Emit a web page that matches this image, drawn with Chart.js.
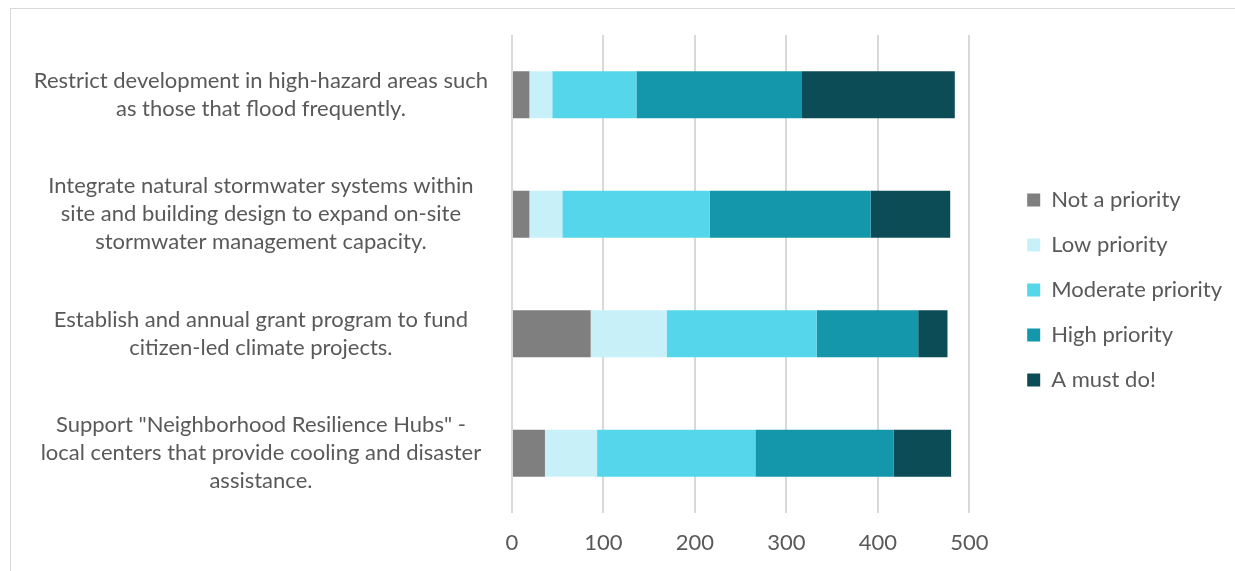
<!DOCTYPE html>
<html>
<head>
<meta charset="utf-8">
<script src="https://cdn.jsdelivr.net/npm/chart.js@4/dist/chart.umd.min.js"></script>
<style>
  html, body { margin: 0; padding: 0; background: #fff; }
  #box { position: absolute; left: 10px; top: 8px; width: 1240px; height: 580px; border: 1px solid #d9d9d9; box-sizing: border-box; }
  #wrap { position: absolute; left: 0; top: 0; width: 1225px; height: 563px; }
</style>
</head>
<body>
<div id="box"><div id="wrap"><canvas id="grafico"></canvas></div></div>
<script>
// Categorías (de arriba a abajo) y respuestas por nivel de prioridad
const categorias = [
    ['Restrict development in high-hazard areas such', 'as those that flood frequently.'],
    ['Integrate natural stormwater systems within', 'site and building design to expand on-site', 'stormwater management capacity.'],
    ['Establish and annual grant program to fund', 'citizen-led climate projects.'],
    ['Support "Neighborhood Resilience Hubs" -', 'local centers that provide cooling and disaster', 'assistance.']
];
const noPrioridad = [19, 19, 86, 36];
const baja = [25, 36, 83, 57];
const moderada = [92, 161, 164, 173];
const alta = [181, 176, 111, 151];
const imprescindible = [167, 87, 32, 63];
const ticksX = [0, 100, 200, 300, 400, 500];

const fuente = 'Lato, "Open Sans", sans-serif';
const gris = '#595959';

const ctx = document.getElementById('grafico').getContext('2d');
let grafico = new Chart(ctx, {
    type: 'bar',
    data: {
        labels: categorias,
        datasets: [
            { label: 'Not a priority', data: noPrioridad, backgroundColor: '#7f7f7f' },
            { label: 'Low priority', data: baja, backgroundColor: '#c8f0f8' },
            { label: 'Moderate priority', data: moderada, backgroundColor: '#55d6ea' },
            { label: 'High priority', data: alta, backgroundColor: '#1597ab' },
            { label: 'A must do!', data: imprescindible, backgroundColor: '#0b4c57' }
        ]
    },
    options: {
        indexAxis: 'y',
        responsive: true,
        maintainAspectRatio: false,
        animation: false,
        datasets: { bar: { categoryPercentage: 0.393, barPercentage: 1 } },
        layout: { padding: { top: 26, right: 4, left: 0, bottom: 1 } },
        scales: {
            x: {
                stacked: true,
                min: 0,
                max: 538, // deja hueco entre la rejilla (0-500) y la leyenda
                afterBuildTicks: axis => { axis.ticks = ticksX.map(v => ({ value: v })); },
                afterFit: axis => { axis.height = 58; },
                grid: { color: '#d9d9d9', lineWidth: 2, drawTicks: false },
                border: { display: false },
                ticks: { color: gris, font: { family: fuente, size: 22 }, padding: 17 }
            },
            y: {
                stacked: true,
                afterFit: axis => { axis.width = 501; axis.paddingTop = 0; axis.paddingBottom = 0; },
                grid: { display: false, drawTicks: false },
                border: { display: false },
                ticks: { color: gris, font: { family: fuente, size: 22, lineHeight: 1.27 }, padding: 24, crossAlign: 'center' }
            }
        },
        plugins: {
            legend: {
                position: 'right',
                fullSize: false,
                // título vacío: sólo baja un poco las entradas
                title: { display: true, text: '', font: { size: 12, lineHeight: 1 }, padding: 10 },
                labels: {
                    color: gris,
                    font: { family: fuente, size: 22 },
                    boxWidth: 13,
                    boxHeight: 13,
                    padding: 23
                }
            },
            tooltip: { enabled: false }
        }
    }
});
</script>
</body>
</html>
